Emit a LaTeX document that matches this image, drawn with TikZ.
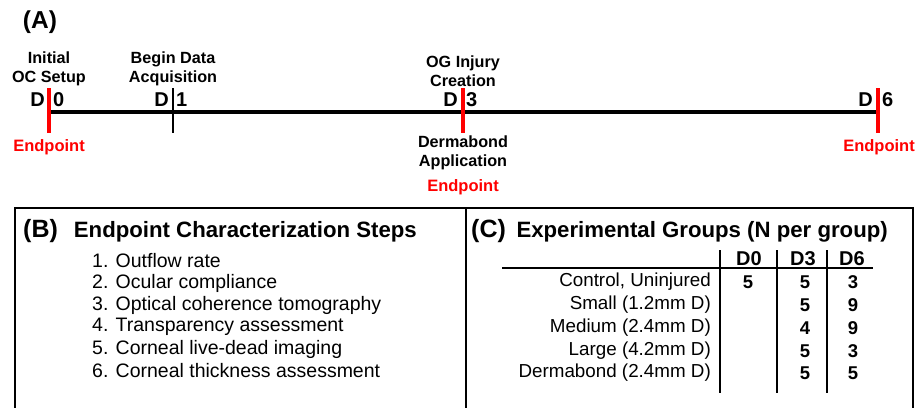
\documentclass[tikz,border=0pt]{standalone}
\usepackage{fontspec}
\setmainfont{Liberation Sans}
\definecolor{epred}{RGB}{255,0,0}
\begin{document}
\begin{tikzpicture}[x=1pt,y=-1pt,
  panel/.style={font=\bfseries\fontsize{24.5}{26}\selectfont, inner sep=0},
  tl/.style={font=\bfseries\fontsize{16.2}{19.5}\selectfont, inner sep=0, align=center},
  dl/.style={font=\bfseries\fontsize{20}{21}\selectfont, inner sep=0},
  ep/.style={tl, font=\bfseries\fontsize{16.5}{19.5}\selectfont, text=epred},
  axis/.style={line width=3.5pt, black},
  redtick/.style={line width=4pt, epred},
  blacktick/.style={line width=1.6pt, black},
  frame/.style={line width=2.4pt, black},
  plab/.style={font=\bfseries\fontsize{25}{26}\selectfont, inner sep=0, anchor=west},
  ttl/.style={font=\bfseries\fontsize{22.2}{24}\selectfont, inner sep=0, anchor=east},
  item/.style={font=\fontsize{19.5}{21}\selectfont, inner sep=0, anchor=west},
  rowlab/.style={font=\fontsize{18.8}{20}\selectfont, inner sep=0, anchor=east},
  hd/.style={font=\bfseries\fontsize{20}{21}\selectfont, inner sep=0},
  num/.style={font=\bfseries\fontsize{18.5}{20}\selectfont, inner sep=0},
  rule/.style={line width=1.8pt, black}
]
\useasboundingbox (0,0) rectangle (918,407);

% ---------- (A) timeline ----------
\node[panel] (pA) at (40,22) {(A)};

\coordinate (a0) at (49,112);
\coordinate (a6) at (878,112);
\draw[axis] (a0) -- (a6);

\coordinate (t0u) at (49,88);  \coordinate (t0d) at (49,133);
\coordinate (t1u) at (173,88); \coordinate (t1d) at (173,133);
\coordinate (t3u) at (463,88); \coordinate (t3d) at (463,133);
\coordinate (t6u) at (878,88); \coordinate (t6d) at (878,133);

\draw[blacktick] (t1u) -- (t1d);
\draw[redtick] (t0u) -- (t0d);
\draw[redtick] (t3u) -- (t3d);
\draw[redtick] (t6u) -- (t6d);

% D labels
\node[dl, anchor=east] (d0a) at (45,100) {D};
\node[dl, anchor=west] (d0b) at (53,100) {0};
\node[dl, anchor=east] (d1a) at (169,100) {D};
\node[dl, anchor=west] (d1b) at (176,100) {1};
\node[dl, anchor=east] (d3a) at (458,100) {D};
\node[dl, anchor=west] (d3b) at (466,100) {3};
\node[dl, anchor=east] (d6a) at (873,100) {D};
\node[dl, anchor=west] (d6b) at (882,100) {6};

% event labels
\node[tl] (e0) at (49,69) {Initial\\OC Setup};
\node[tl] (e1) at (173,69) {Begin Data\\Acquisition};
\node[tl] (e3) at (463,71) {OG Injury\\Creation};
\node[tl] (e3b) at (463,153) {Dermabond\\Application};

\node[ep] (ep0) at (49,147) {Endpoint};
\node[ep] (ep3) at (463,187) {Endpoint};
\node[ep] (ep6) at (879,147) {Endpoint};

% ---------- frames ----------
\coordinate (fL) at (15,410);
\coordinate (fTL) at (15,208);
\coordinate (fTR) at (913,208);
\coordinate (fR) at (913,410);
\coordinate (fMt) at (466,208);
\coordinate (fMb) at (466,410);
\draw[frame] (fL) -- (fTL) -- (fTR) -- (fR);
\draw[frame] (fMt) -- (fMb);

% ---------- (B) ----------
\node[plab] (bB) at (23,231) {(B)};
\node[ttl] (bT) at (417,232) {Endpoint Characterization Steps};
\node[item] (i1) at (92,261) {1. Outflow rate};
\node[item] (i2) at (92,283) {2. Ocular compliance};
\node[item] (i3) at (92,305) {3. Optical coherence tomography};
\node[item] (i4) at (92,327) {4. Transparency assessment};
\node[item] (i5) at (92,349) {5. Corneal live-dead imaging};
\node[item] (i6) at (92,371) {6. Corneal thickness assessment};

% ---------- (C) ----------
\node[plab] (cC) at (471,231) {(C)};
\node[ttl] (cT) at (888,232) {Experimental Groups (N per group)};

\coordinate (v1t) at (720,250); \coordinate (v1b) at (720,393);
\coordinate (v2t) at (777,250); \coordinate (v2b) at (777,393);
\coordinate (v3t) at (827,250); \coordinate (v3b) at (827,393);
\coordinate (hl) at (502,268);  \coordinate (hr) at (873,268);
\draw[rule] (v1t) -- (v1b);
\draw[rule] (v2t) -- (v2b);
\draw[rule] (v3t) -- (v3b);
\draw[rule] (hl) -- (hr);

\node[hd] (h0) at (749,259) {D0};
\node[hd] (h3) at (803,259) {D3};
\node[hd] (h6) at (852,259) {D6};

\node[rowlab] (r1) at (711,282) {Control, Uninjured};
\node[rowlab] (r2) at (711,305) {Small (1.2mm D)};
\node[rowlab] (r3) at (711,328) {Medium (2.4mm D)};
\node[rowlab] (r4) at (711,351) {Large (4.2mm D)};
\node[rowlab] (r5) at (711,373) {Dermabond (2.4mm D)};

\node[num] (n10) at (748,282) {5};
\node[num] (n13) at (805,282) {5};
\node[num] (n16) at (853,282) {3};
\node[num] (n23) at (805,305) {5};
\node[num] (n26) at (853,305) {9};
\node[num] (n33) at (805,328) {4};
\node[num] (n36) at (853,328) {9};
\node[num] (n43) at (805,351) {5};
\node[num] (n46) at (853,351) {3};
\node[num] (n53) at (805,373) {5};
\node[num] (n56) at (853,373) {5};
\end{tikzpicture}
\end{document}
